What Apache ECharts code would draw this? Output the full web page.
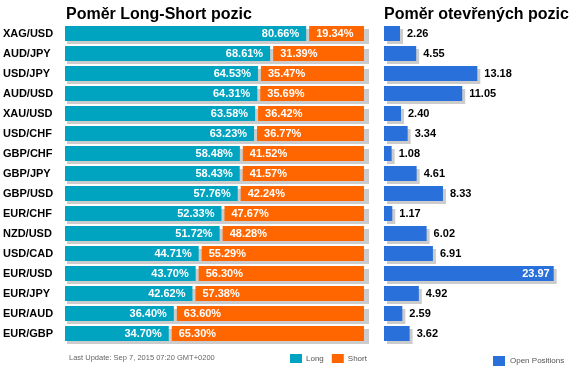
<!DOCTYPE html>
<html>
<head>
<meta charset="utf-8">
<script src="https://cdn.jsdelivr.net/npm/echarts@6/dist/echarts.min.js"></script>
<style>
  html, body { margin: 0; padding: 0; background: #fff; }
  #main { width: 578px; height: 375px; }
</style>
</head>
<body>
<div id="main"></div>
<script>
const categories = ['XAG/USD', 'AUD/JPY', 'USD/JPY', 'AUD/USD', 'XAU/USD', 'USD/CHF', 'GBP/CHF', 'GBP/JPY',
  'GBP/USD', 'EUR/CHF', 'NZD/USD', 'USD/CAD', 'EUR/USD', 'EUR/JPY', 'EUR/AUD', 'EUR/GBP'];
const longPct = [80.66, 68.61, 64.53, 64.31, 63.58, 63.23, 58.48, 58.43, 57.76, 52.33, 51.72, 44.71, 43.70, 42.62, 36.40, 34.70];
const shortPct = [19.34, 31.39, 35.47, 35.69, 36.42, 36.77, 41.52, 41.57, 42.24, 47.67, 48.28, 55.29, 56.30, 57.38, 63.60, 65.30];
const openPos = [2.26, 4.55, 13.18, 11.05, 2.40, 3.34, 1.08, 4.61, 8.33, 1.17, 6.02, 6.91, 23.97, 4.92, 2.59, 3.62];

const TEAL = '#00a4c0';
const ORANGE = '#ff6600';
const BLUE = '#2a70da';
const SHADOW = '#cccccc';
const FONT = 'Arial, "Liberation Sans", sans-serif';
const BAR_H = 15;

const chart = echarts.init(document.getElementById('main'));

function renderLong(params, api) {
  const idx = params.dataIndex;
  const p0 = api.coord([0, idx]);
  const p1 = api.coord([longPct[idx], idx]);
  const p2 = api.coord([100, idx]);
  const y = p0[1] - BAR_H / 2;
  return {
    type: 'group',
    children: [
      // gray drop shadow under the whole row
      { type: 'rect', shape: { x: p0[0] + 2, y: y + 3, width: p2[0] - p0[0] + 3, height: BAR_H }, style: { fill: SHADOW } },
      { type: 'rect', shape: { x: p0[0], y: y, width: p1[0] - p0[0], height: BAR_H }, style: { fill: TEAL } },
      {
        type: 'text',
        style: {
          text: longPct[idx].toFixed(2) + '%', x: p1[0] - 7, y: p0[1] + 0.5,
          align: 'right', verticalAlign: 'middle', fill: '#fff', font: 'bold 11px ' + FONT
        }
      }
    ]
  };
}

function renderShort(params, api) {
  const idx = params.dataIndex;
  const p1 = api.coord([longPct[idx], idx]);
  const p2 = api.coord([100, idx]);
  const y = p1[1] - BAR_H / 2;
  const x0 = p1[0] + 3;
  return {
    type: 'group',
    children: [
      { type: 'rect', shape: { x: x0, y: y, width: p2[0] - x0, height: BAR_H }, style: { fill: ORANGE } },
      {
        type: 'text',
        style: {
          text: shortPct[idx].toFixed(2) + '%', x: x0 + 7, y: p1[1] + 0.5,
          align: 'left', verticalAlign: 'middle', fill: '#fff', font: 'bold 11px ' + FONT
        }
      }
    ]
  };
}

const option = {
  animation: false,
  title: [
    { text: 'Poměr Long-Short pozic', left: 61, top: 2, textStyle: { fontFamily: FONT, fontSize: 16, fontWeight: 'bold', color: '#000' } },
    { text: 'Poměr otevřených pozic', left: 379, top: 2, textStyle: { fontFamily: FONT, fontSize: 16, fontWeight: 'bold', color: '#000' } },
    { text: 'Last Update: Sep 7, 2015 07:20 GMT+0200', left: 64, top: 349, textStyle: { fontFamily: FONT, fontSize: 7.5, fontWeight: 'normal', color: '#666' } }
  ],
  legend: [
    {
      data: ['Long', 'Short'], left: 285, top: 349, icon: 'rect', itemWidth: 12, itemHeight: 9, itemGap: 8,
      textStyle: { fontFamily: FONT, fontSize: 8, color: '#555', padding: [0, 0, 0, -1] }, selectedMode: false
    },
    {
      data: ['Open Positions'], left: 488, top: 351, icon: 'rect', itemWidth: 12, itemHeight: 10,
      textStyle: { fontFamily: FONT, fontSize: 8, color: '#555' }, selectedMode: false
    }
  ],
  grid: [
    { left: 65, width: 299, top: 23.5, height: 320 },
    { left: 384, right: 17, top: 23.5, height: 320 }
  ],
  xAxis: [
    { gridIndex: 0, type: 'value', min: 0, max: 100, show: false },
    { gridIndex: 1, type: 'value', min: 0, max: 25, show: false }
  ],
  yAxis: [
    {
      gridIndex: 0, type: 'category', data: categories, inverse: true,
      axisLine: { show: false }, axisTick: { show: false },
      axisLabel: { align: 'left', margin: 62, fontFamily: FONT, fontSize: 11, fontWeight: 'bold', color: '#000' }
    },
    { gridIndex: 1, type: 'category', data: categories, inverse: true, show: false }
  ],
  series: [
    {
      name: 'Long', type: 'custom', xAxisIndex: 0, yAxisIndex: 0,
      itemStyle: { color: TEAL },
      renderItem: renderLong,
      encode: { x: 1, y: 0 },
      data: longPct.map((v, i) => [i, v])
    },
    {
      name: 'Short', type: 'custom', xAxisIndex: 0, yAxisIndex: 0, z: 3,
      itemStyle: { color: ORANGE },
      renderItem: renderShort,
      encode: { x: 1, y: 0 },
      data: shortPct.map((v, i) => [i, longPct[i] + v])
    },
    {
      name: 'Open Positions', type: 'bar', xAxisIndex: 1, yAxisIndex: 1,
      barWidth: BAR_H,
      itemStyle: { color: BLUE, shadowColor: SHADOW, shadowOffsetX: 3, shadowOffsetY: 3, shadowBlur: 0 },
      label: {
        show: true, position: 'right', distance: 7,
        fontFamily: FONT, fontSize: 11, fontWeight: 'bold', color: '#000',
        formatter: p => p.value.toFixed(2)
      },
      data: openPos.map(v => v > 20
        ? { value: v, label: { position: 'insideRight', distance: 4, color: '#fff' } }
        : v)
    }
  ]
};

chart.setOption(option);
</script>
</body>
</html>
